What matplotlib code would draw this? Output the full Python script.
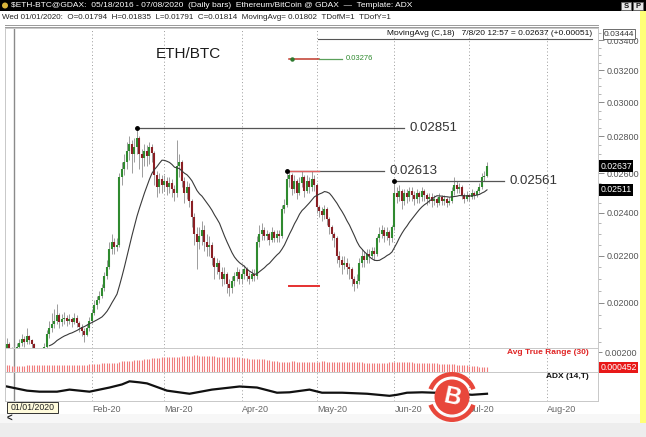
"""ETH/BTC daily bars with MA(18), ATR(30) and ADX(14) panels."""

import numpy as np
import pandas as pd
import matplotlib
matplotlib.use("Agg")
import matplotlib.pyplot as plt
import matplotlib.dates as mdates
from matplotlib.patches import Rectangle, Circle, Wedge
from matplotlib.ticker import FixedLocator, NullFormatter

plt.rcParams["font.family"] = ["Liberation Sans", "DejaVu Sans"]

# ── Data ────────────────────────────────────────────────────────────────────

FIRST_DAY = "2019-12-29"
FIRST_OPEN = 0.01825

close = [
    0.01840, 0.01815, 0.01794,
    0.01814, 0.01830, 0.01845, 0.01860, 0.01850, 0.01870, 0.01855, 0.01840, 0.01800, 0.01790,
    0.01810, 0.01800, 0.01830, 0.01880, 0.01900, 0.01915, 0.01930, 0.01950, 0.01925, 0.01935,
    0.01940, 0.01930, 0.01935, 0.01925, 0.01940, 0.01920, 0.01905, 0.01890, 0.01875, 0.01900,
    0.01930, 0.01960, 0.01990, 0.02010, 0.02030, 0.02060, 0.02110, 0.02150, 0.02230, 0.02260,
    0.02240, 0.02250, 0.02580, 0.02620, 0.02660, 0.02720, 0.02760, 0.02700, 0.02740, 0.02790,
    0.02700, 0.02680, 0.02720, 0.02690, 0.02740, 0.02710, 0.02590, 0.02530, 0.02570, 0.02540,
    0.02560, 0.02530, 0.02550, 0.02520, 0.02500, 0.02640, 0.02660, 0.02560, 0.02500, 0.02530,
    0.02460, 0.02380, 0.02300, 0.02260, 0.02290, 0.02320, 0.02260, 0.02240, 0.02250, 0.02190,
    0.02150, 0.02170, 0.02130, 0.02100, 0.02120, 0.02080, 0.02060, 0.02090, 0.02110, 0.02130,
    0.02100, 0.02120, 0.02140, 0.02110, 0.02100, 0.02120, 0.02110, 0.02260, 0.02300, 0.02320,
    0.02290, 0.02300, 0.02270, 0.02310, 0.02280, 0.02300, 0.02290, 0.02420, 0.02440, 0.02570,
    0.02590, 0.02520, 0.02560, 0.02500, 0.02550, 0.02580, 0.02510, 0.02560, 0.02530, 0.02570,
    0.02540, 0.02430, 0.02410, 0.02390, 0.02420, 0.02370, 0.02330, 0.02300, 0.02280, 0.02200,
    0.02180, 0.02160, 0.02170, 0.02150, 0.02140, 0.02100, 0.02080, 0.02090, 0.02170, 0.02200,
    0.02180, 0.02210, 0.02200, 0.02220, 0.02210, 0.02280, 0.02300, 0.02320, 0.02290, 0.02310,
    0.02280, 0.02330, 0.02500, 0.02480, 0.02510, 0.02460, 0.02500, 0.02480, 0.02510, 0.02490,
    0.02470, 0.02500, 0.02480, 0.02510, 0.02490, 0.02470, 0.02480, 0.02460, 0.02470, 0.02450,
    0.02480, 0.02460, 0.02470, 0.02450, 0.02460, 0.02510, 0.02540, 0.02520, 0.02530, 0.02490,
    0.02470, 0.02490, 0.02480, 0.02500, 0.02490, 0.02510, 0.02530, 0.02580, 0.02586, 0.02637,
]

high = [
    0.01865, 0.01850, 0.01830,
    0.01835, 0.01845, 0.01860, 0.01880, 0.01870, 0.01900, 0.01875, 0.01860, 0.01845, 0.01815,
    0.01825, 0.01820, 0.01845, 0.01895, 0.01930, 0.01960, 0.01975, 0.01995, 0.01960, 0.01955,
    0.01965, 0.01950, 0.01955, 0.01945, 0.01960, 0.01950, 0.01930, 0.01915, 0.01900, 0.01915,
    0.01945, 0.01975, 0.02010, 0.02030, 0.02050, 0.02080, 0.02130, 0.02180, 0.02260, 0.02300,
    0.02280, 0.02280, 0.02600, 0.02660, 0.02700, 0.02770, 0.02800, 0.02780, 0.02790, 0.02851,
    0.02800, 0.02730, 0.02760, 0.02750, 0.02770, 0.02760, 0.02720, 0.02610, 0.02600, 0.02590,
    0.02590, 0.02580, 0.02580, 0.02570, 0.02540, 0.02780, 0.02700, 0.02670, 0.02580, 0.02560,
    0.02550, 0.02470, 0.02400, 0.02330, 0.02330, 0.02360, 0.02340, 0.02300, 0.02290, 0.02260,
    0.02200, 0.02190, 0.02180, 0.02150, 0.02150, 0.02130, 0.02100, 0.02110, 0.02130, 0.02150,
    0.02140, 0.02140, 0.02160, 0.02150, 0.02130, 0.02140, 0.02140, 0.02290, 0.02340, 0.02350,
    0.02330, 0.02320, 0.02310, 0.02330, 0.02320, 0.02320, 0.02320, 0.02440, 0.02470, 0.02613,
    0.02610, 0.02600, 0.02590, 0.02570, 0.02580, 0.02610, 0.02590, 0.02590, 0.02580, 0.02613,
    0.02590, 0.02550, 0.02440, 0.02430, 0.02440, 0.02430, 0.02380, 0.02340, 0.02310, 0.02290,
    0.02220, 0.02200, 0.02200, 0.02190, 0.02170, 0.02150, 0.02110, 0.02120, 0.02190, 0.02230,
    0.02220, 0.02230, 0.02230, 0.02240, 0.02240, 0.02290, 0.02330, 0.02340, 0.02330, 0.02330,
    0.02320, 0.02340, 0.02561, 0.02530, 0.02540, 0.02520, 0.02520, 0.02520, 0.02530, 0.02530,
    0.02510, 0.02520, 0.02510, 0.02530, 0.02520, 0.02500, 0.02500, 0.02500, 0.02490, 0.02480,
    0.02500, 0.02490, 0.02490, 0.02480, 0.02480, 0.02530, 0.02580, 0.02560, 0.02550, 0.02540,
    0.02500, 0.02510, 0.02500, 0.02520, 0.02510, 0.02520, 0.02550, 0.02600, 0.02610, 0.02660,
]

low = [
    0.01815, 0.01800, 0.01780,
    0.01791, 0.01805, 0.01820, 0.01835, 0.01830, 0.01840, 0.01840, 0.01820, 0.01780, 0.01770,
    0.01780, 0.01785, 0.01795, 0.01820, 0.01865, 0.01885, 0.01900, 0.01915, 0.01900, 0.01910,
    0.01915, 0.01910, 0.01915, 0.01905, 0.01915, 0.01905, 0.01885, 0.01870, 0.01850, 0.01870,
    0.01890, 0.01920, 0.01950, 0.01975, 0.02000, 0.02020, 0.02050, 0.02100, 0.02140, 0.02210,
    0.02210, 0.02220, 0.02240, 0.02540, 0.02590, 0.02620, 0.02670, 0.02600, 0.02660, 0.02700,
    0.02620, 0.02580, 0.02640, 0.02640, 0.02650, 0.02660, 0.02540, 0.02480, 0.02500, 0.02500,
    0.02510, 0.02490, 0.02500, 0.02480, 0.02460, 0.02480, 0.02580, 0.02530, 0.02450, 0.02470,
    0.02430, 0.02330, 0.02250, 0.02140, 0.02230, 0.02250, 0.02220, 0.02200, 0.02200, 0.02160,
    0.02100, 0.02120, 0.02100, 0.02070, 0.02080, 0.02040, 0.02030, 0.02040, 0.02070, 0.02090,
    0.02080, 0.02080, 0.02100, 0.02090, 0.02080, 0.02090, 0.02090, 0.02100, 0.02240, 0.02270,
    0.02270, 0.02270, 0.02250, 0.02260, 0.02260, 0.02260, 0.02260, 0.02280, 0.02400, 0.02430,
    0.02530, 0.02490, 0.02500, 0.02470, 0.02490, 0.02530, 0.02480, 0.02500, 0.02500, 0.02510,
    0.02510, 0.02400, 0.02380, 0.02360, 0.02370, 0.02340, 0.02300, 0.02270, 0.02240, 0.02170,
    0.02150, 0.02120, 0.02140, 0.02120, 0.02100, 0.02070, 0.02050, 0.02060, 0.02080, 0.02150,
    0.02150, 0.02170, 0.02170, 0.02190, 0.02180, 0.02200, 0.02260, 0.02280, 0.02260, 0.02270,
    0.02250, 0.02260, 0.02320, 0.02450, 0.02460, 0.02420, 0.02440, 0.02450, 0.02460, 0.02460,
    0.02440, 0.02450, 0.02450, 0.02460, 0.02460, 0.02440, 0.02450, 0.02430, 0.02440, 0.02430,
    0.02440, 0.02440, 0.02440, 0.02430, 0.02440, 0.02450, 0.02490, 0.02500, 0.02500, 0.02470,
    0.02450, 0.02460, 0.02460, 0.02470, 0.02470, 0.02480, 0.02500, 0.02520, 0.02560, 0.02580,
]

atr30 = [
    0.00066, 0.00066, 0.00065, 0.00065, 0.00064, 0.00064, 0.00065, 0.00065, 0.00066, 0.00066,
    0.00067, 0.00067, 0.00066, 0.00066, 0.00067, 0.00068, 0.00068, 0.00068, 0.00069, 0.00069,
    0.00070, 0.00070, 0.00069, 0.00069, 0.00070, 0.00071, 0.00071, 0.00071, 0.00072, 0.00072,
    0.00072, 0.00073, 0.00074, 0.00076, 0.00080, 0.00082, 0.00084, 0.00085, 0.00086, 0.00087,
    0.00088, 0.00090, 0.00092, 0.00093, 0.00094, 0.00105, 0.00108, 0.00110, 0.00112, 0.00114,
    0.00115, 0.00118, 0.00120, 0.00122, 0.00124, 0.00127, 0.00130, 0.00135, 0.00138, 0.00140,
    0.00142, 0.00144, 0.00146, 0.00148, 0.00150, 0.00151, 0.00152, 0.00152, 0.00153, 0.00155,
    0.00157, 0.00160, 0.00162, 0.00163, 0.00165, 0.00166, 0.00166, 0.00165, 0.00164, 0.00162,
    0.00160, 0.00158, 0.00157, 0.00156, 0.00155, 0.00154, 0.00153, 0.00152, 0.00151, 0.00150,
    0.00149, 0.00148, 0.00147, 0.00146, 0.00145, 0.00144, 0.00140, 0.00135, 0.00132, 0.00130,
    0.00130, 0.00129, 0.00128, 0.00126, 0.00122, 0.00118, 0.00112, 0.00108, 0.00106, 0.00105,
    0.00105, 0.00104, 0.00104, 0.00105, 0.00106, 0.00106, 0.00105, 0.00104, 0.00103, 0.00104,
    0.00105, 0.00105, 0.00104, 0.00103, 0.00104, 0.00105, 0.00106, 0.00106, 0.00105, 0.00104,
    0.00103, 0.00103, 0.00102, 0.00101, 0.00101, 0.00100, 0.00100, 0.00099, 0.00099, 0.00098,
    0.00098, 0.00097, 0.00096, 0.00095, 0.00094, 0.00093, 0.00092, 0.00091, 0.00090, 0.00090,
    0.00091, 0.00092, 0.00094, 0.00096, 0.00098, 0.00100, 0.00102, 0.00101, 0.00100, 0.00099,
    0.00098, 0.00097, 0.00096, 0.00095, 0.00094, 0.00093, 0.00092, 0.00091, 0.00090, 0.00089,
    0.00088, 0.00087, 0.00086, 0.00085, 0.00084, 0.00083, 0.00082, 0.00080, 0.00078, 0.00076,
    0.00074, 0.00072, 0.00070, 0.00068, 0.00066, 0.00064, 0.00062, 0.00060, 0.00058, 0.00055,
    0.00052, 0.00049, 0.000452,
]

adx_dates = [
    "2019-12-29", "2020-01-06", "2020-01-11", "2020-01-18", "2020-01-23", "2020-01-31",
    "2020-02-08", "2020-02-13", "2020-02-16", "2020-02-20", "2020-02-23", "2020-03-02",
    "2020-03-11", "2020-03-20", "2020-03-31", "2020-04-07", "2020-04-15", "2020-04-20",
    "2020-04-28", "2020-05-03", "2020-05-11", "2020-05-21", "2020-05-30", "2020-06-02",
    "2020-06-06", "2020-06-12", "2020-06-22", "2020-07-02", "2020-07-08",
]
adx_vals = [
    35, 25, 22.5, 22.5, 27.5, 22.5,
    32.5, 40, 47.5, 45, 42.5, 25,
    17.5, 27.5, 35, 32.5, 20, 21,
    27.5, 20, 20, 17.5, 12.5, 15,
    20, 21, 19, 15, 17.5,
]

price_ticks = [0.020, 0.022, 0.024, 0.026, 0.028, 0.030, 0.032, 0.034]
levels = [0.02851, 0.02613, 0.02561]
level_days = ["2020-02-19", "2020-04-19", "2020-06-01"]
level_ends = ["2020-06-05", "2020-05-28", "2020-07-15"]
support = 0.0207
alert = 0.03276

# ── Figure ──────────────────────────────────────────────────────────────────

W, H = 646, 437
fig = plt.figure(figsize=(W / 100, H / 100), dpi=100, facecolor="white")


def box(x0, y0, x1, y1):
    # pixel box (top-left origin) -> figure fraction rect
    return [x0 / W, 1 - y1 / H, (x1 - x0) / W, (y1 - y0) / H]


ax = fig.add_axes(box(5, 28, 598, 348))
ax_atr = fig.add_axes(box(5, 348, 598, 372), sharex=ax)
ax_adx = fig.add_axes(box(5, 372, 598, 401), sharex=ax)

dates = pd.date_range(FIRST_DAY, periods=len(close), freq="D")
x = mdates.date2num(dates)
c = np.array(close)
o = np.array([FIRST_OPEN] + close[:-1])
hi = np.array(high)
lo = np.array(low)
ma = pd.Series(close).rolling(18).mean()

up = c >= o
ax.vlines(x, lo, hi, color="#9c9c9c", lw=0.7, zorder=2)
ax.vlines(x[up], o[up], c[up], color="#2f8a2f", lw=1.5, zorder=3)
ax.vlines(x[~up], o[~up], c[~up], color="#8a1f24", lw=1.5, zorder=3)
ax.plot(x, ma, color="#3a3a3a", lw=0.8, zorder=4)

ax.set_yscale("log")
ax.set_ylim(0.01826, 0.03486)
jan1 = mdates.date2num(pd.Timestamp("2020-01-01"))
ax.set_xlim(jan1 - 3.8, jan1 + 233.4)

ax.yaxis.tick_right()
ax.yaxis.set_major_locator(FixedLocator(price_ticks))
ax.yaxis.set_major_formatter(plt.FuncFormatter(lambda v, p: f"{v:.5f}"))
ax.yaxis.set_minor_locator(FixedLocator(np.arange(0.0185, 0.0346, 0.0005)))
ax.yaxis.set_minor_formatter(NullFormatter())
ax.tick_params(axis="y", which="major", length=4, width=0.6, color="#777",
               labelsize=6.5, labelcolor="#555", pad=2)
ax.tick_params(axis="y", which="minor", length=2, width=0.5, color="#999")

for a in (ax, ax_atr, ax_adx):
    # January is marked by the cursor line and the date box instead
    a.xaxis.set_major_locator(mdates.MonthLocator(bymonth=range(2, 13)))
    a.grid(axis="x", linestyle=(0, (1, 2.5)), color="#9a9a9a", lw=0.7)
    a.axvline(jan1, color="#8a8a8a", lw=1.0, zorder=1)
    for s in a.spines.values():
        s.set_color("#c8c8c8")
        s.set_linewidth(0.7)
    a.set_facecolor("white")

ax.tick_params(axis="x", length=0, labelbottom=False)
ax_atr.tick_params(axis="x", length=0, labelbottom=False)

# price annotations
for lv, d0, d1 in zip(levels, level_days, level_ends):
    xd0 = mdates.date2num(pd.Timestamp(d0))
    xd1 = mdates.date2num(pd.Timestamp(d1))
    ax.plot([xd0, xd1], [lv, lv], color="#555", lw=0.9, zorder=5)
    ax.plot([xd0], [lv], "o", color="black", ms=2.5, zorder=6)
    ax.text(xd1 + 2, lv, f"{lv:.5f}", fontsize=9.5, color="#333",
            va="center", ha="left")

red0 = mdates.date2num(pd.Timestamp("2020-04-20"))
red1 = mdates.date2num(pd.Timestamp("2020-05-02"))
ax.plot([red0, red1], [levels[1], levels[1]], color="#e06060", lw=1.0, zorder=5)
ax.plot([red0, red1], [support, support], color="#e53030", lw=1.4, zorder=5)

g0 = mdates.date2num(pd.Timestamp("2020-04-21"))
ax.plot([g0 - 1, red1], [alert, alert], color="#c0392b", lw=1.1, zorder=5)
ax.plot([red1, red1 + 9], [alert, alert], color="#5aa05a", lw=0.9, zorder=5)
ax.plot([g0], [alert], "o", color="#2f7a2f", ms=2.2, zorder=6)
ax.text(red1 + 10.5, alert, f"{alert:.5f}", fontsize=5.5, color="#2f8a2f",
        va="center", ha="left")

ax.text(0.254, 0.92, "ETH/BTC", transform=ax.transAxes, fontsize=11,
        color="#1a1a1a", ha="left", va="center")

# right side value flags
ytr = ax.get_yaxis_transform()
ax.text(1.004, close[-1], f"{close[-1]:.5f}", transform=ytr, fontsize=6.3,
        color="white", ha="left", va="center",
        bbox=dict(fc="black", ec="none", pad=0.8), zorder=7)
ax.text(1.004, ma.iloc[-1], "0.02511", transform=ytr, fontsize=6.3,
        color="white", ha="left", va="center",
        bbox=dict(fc="black", ec="none", pad=0.8), zorder=7)

# ATR panel
ax_atr.vlines(x, 0, atr30, color="#f07c7c", lw=0.8)
ax_atr.set_ylim(0, 0.0024)
ax_atr.yaxis.tick_right()
ax_atr.set_yticks([0.002])
ax_atr.yaxis.set_major_formatter(plt.FuncFormatter(lambda v, p: f"{v:.5f}"))
ax_atr.tick_params(axis="y", length=3, width=0.6, color="#777",
                   labelsize=6.5, labelcolor="#555", pad=2)
ax_atr.text(0.985, 0.82, "Avg True Range (30)", transform=ax_atr.transAxes,
            fontsize=6, fontweight="bold", color="#e02424", ha="right", va="center")
ax_atr.text(1.004, atr30[-1], f"{atr30[-1]:.6f}", transform=ax_atr.get_yaxis_transform(),
            fontsize=6.3, color="white", ha="left", va="center",
            bbox=dict(fc="#e81818", ec="none", pad=0.8))

# ADX panel
ax_adx.plot(mdates.date2num(pd.to_datetime(adx_dates)), adx_vals,
            color="#111", lw=1.6)
ax_adx.set_ylim(0, 70)
ax_adx.yaxis.tick_right()
ax_adx.set_yticks([])
ax_adx.text(0.985, 0.85, "ADX (14,T)", transform=ax_adx.transAxes,
            fontsize=6, fontweight="bold", color="#111", ha="right", va="center")
ax_adx.xaxis.set_major_formatter(mdates.DateFormatter("%b-%y"))
ax_adx.tick_params(axis="x", length=0, labelsize=6.5, labelcolor="#666", pad=3)
for lbl in ax_adx.get_xticklabels():
    lbl.set_ha("left")

# ── Window chrome (pixel overlay) ──────────────────────────────────────────

ov = fig.add_axes([0, 0, 1, 1], zorder=10)
ov.set_xlim(0, W)
ov.set_ylim(H, 0)
ov.axis("off")
ov.patch.set_alpha(0)

ov.add_patch(Rectangle((0, 0), W, 11, fc="black", ec="none"))
ov.add_patch(Circle((5, 5.5), 3, fc="#d9b43a", ec="none"))
ov.text(11, 5.8, "$ETH-BTC@GDAX:  05/18/2016 - 07/08/2020  (Daily bars)  "
        "Ethereum/BitCoin @ GDAX  \u2014  Template: ADX",
        fontsize=6, color="white", va="center", ha="left")
for bx, ch in ((621, "S"), (633, "P")):
    ov.add_patch(Rectangle((bx, 1.5), 10, 8.5, fc="#e8e8e8", ec="#666", lw=0.5))
    ov.text(bx + 5, 6, ch, fontsize=5.5, color="#111", ha="center",
            va="center", fontweight="bold")

ov.text(2, 17.5, "Wed 01/01/2020:  O=0.01794  H=0.01835  L=0.01791  C=0.01814  "
        "MovingAvg= 0.01802  TDofM=1  TDofY=1",
        fontsize=5.8, color="#222", va="center", ha="left")
ov.plot([5, 598], [24.5, 24.5], color="#999", lw=0.7)
ov.plot([5, 598], [27, 27], color="#999", lw=0.7)

ov.text(592, 33.5, "MovingAvg (C,18)   7/8/20 12:57 = 0.02637 (+0.00051)",
        fontsize=6, color="#111", va="center", ha="right")
ov.plot([318, 592], [38.5, 38.5], color="#555", lw=0.8)
ov.text(619, 34, "0.03444", fontsize=6, color="#333", ha="center", va="center",
        bbox=dict(fc="white", ec="#555", lw=0.6, pad=0.8))

ov.add_patch(Rectangle((640, 11), 6, 420, fc="#ffff77", ec="none"))

ov.add_patch(Rectangle((0, 414), 640, 9, fc="#f7f7f7", ec="none"))
ov.text(9, 418.5, "<", fontsize=7, color="#222", ha="center", va="center",
        fontweight="bold")
ov.add_patch(Rectangle((0, 423), W, 14, fc="#ededed", ec="none"))

ov.add_patch(Rectangle((7, 401.5), 51, 11, fc="#fffbdc", ec="#333", lw=0.7))
ov.text(32.5, 407, "01/01/2020", fontsize=6.3, color="#222", ha="center",
        va="center")

# watermark logo
cx, cy = 452, 397
ov.add_patch(Wedge((cx, cy), 25, 200, 340, width=4.5, fc="#e8473b", ec="none"))
ov.add_patch(Wedge((cx, cy), 25, 20, 160, width=4.5, fc="#e8473b", ec="none"))
ov.add_patch(Circle((cx, cy), 17.5, fc="#e8473b", ec="none"))
ov.text(cx + 0.5, cy + 0.5, "B", fontsize=17, fontweight="bold", color="white",
        ha="center", va="center", rotation=-12)

fig.savefig("out.png", dpi=100, facecolor=fig.get_facecolor())
